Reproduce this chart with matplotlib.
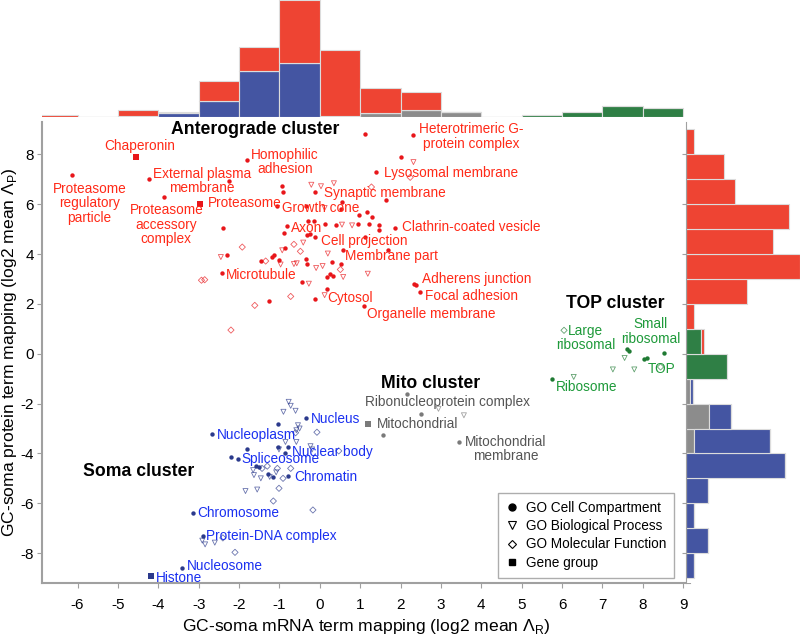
import numpy as np
import matplotlib
matplotlib.use("Agg")
import matplotlib.pyplot as plt
from matplotlib.lines import Line2D

plt.rcParams['font.family'] = ['Liberation Sans', 'DejaVu Sans']
plt.rcParams['mathtext.fontset'] = 'custom'
plt.rcParams['mathtext.rm'] = 'Liberation Sans'
plt.rcParams['axes.unicode_minus'] = False

# colours
RED, RED_T = '#e8161a', '#ff2a18'
BLUE, BLUE_T = '#2b3a8c', '#1a30f0'
GREY, GREY_T = '#7a7a7a', '#555555'
GREEN, GREEN_T = '#1f7a33', '#1e9a3a'
H_RED, H_BLUE, H_GREY, H_GREEN = '#ee4433', '#4455a2', '#8c8c8c', '#2f7f45'

# ---- scatter data (mRNA x, protein y) ----
red_cc_x = [1.13, 2.30, 2.02, 1.40, -6.14, -4.24, -1.79, -2.25, -3.87, -0.93, -0.90, -0.11, 1.64,
            -1.05, -0.35, 0.55, 0.53, -2.40, -0.82, -0.89, -0.31, -0.25, -0.11, -0.29, -0.15, 0.12,
            0.39, 0.96, 1.17, 1.29, 0.95, 1.23, 1.47, 1.46, 1.87, 1.13, 1.70, 0.58, -0.35, -0.32,
            0.30, 0.53, -1.46, -1.19, -1.14, -1.00, -0.85, -2.31, -2.43, 0.26, 0.33, 0.19, -0.44,
            -0.11, 0.19, -1.26, 1.10, 2.38, 2.49, 2.34]
red_cc_y = [8.83, 8.79, 7.89, 7.29, 7.18, 7.02, 7.78, 6.92, 6.29, 6.73, 6.49, 6.50, 6.15,
            5.93, 5.93, 6.09, 5.79, 5.05, 5.11, 4.86, 4.78, 4.82, 4.68, 5.31, 5.31, 5.22,
            5.15, 5.55, 5.69, 5.49, 5.22, 5.22, 5.18, 4.95, 5.05, 4.68, 4.18, 4.16, 3.82, 3.60,
            3.68, 3.62, 3.74, 3.87, 3.98, 3.76, 4.26, 3.98, 3.22, 3.18, 3.12, 3.06, 2.88,
            2.19, 2.59, 2.10, 1.90, 2.75, 2.48, 2.80]
red_sq_x = [-4.54, -2.96]
red_sq_y = [7.88, 6.02]
red_bp_x = [-2.45, -0.97, -0.93, -0.64, -0.57, -0.41, -0.27, -0.09, 0.07, 0.20, 0.58, 1.19,
            -0.21, 0.03, 0.35, 0.12, 0.55, 0.80, 0.12, 2.32]
red_bp_y = [3.88, 3.58, 4.15, 3.60, 3.63, 4.46, 2.81, 3.44, 3.52, 4.02, 3.08, 3.21,
            6.78, 6.72, 6.84, 5.85, 5.18, 5.15, 2.35, 7.69]
red_mf_x = [-2.85, -2.93, -1.92, -1.61, -0.72, -0.64, -0.48, -1.34, 0.51, 1.28, 2.24, -2.20]
red_mf_y = [2.97, 2.95, 4.28, 1.94, 2.30, 4.39, 4.11, 3.72, 3.38, 6.69, 7.08, 0.95]

blue_cc_x = [-0.33, -2.66, -2.19, -2.02, -0.79, -0.85, -0.79, -1.04, -1.80, -1.04, -1.57, -1.51,
             -1.28, -1.16, -3.13, -2.89, -3.40]
blue_cc_y = [-2.56, -3.23, -4.14, -4.23, -3.74, -3.98, -4.90, -2.80, -3.84, -3.76, -4.51, -4.54,
             -4.84, -4.94, -6.41, -7.30, -8.61]
blue_sq_x = [-4.18]
blue_sq_y = [-8.91]
blue_bp_x = [-0.77, -0.72, -0.90, -0.60, -0.54, -0.50, -0.58, -0.85, -0.58, -0.23, -0.19, -1.01,
             -1.65, -1.46, -1.63, -1.24, -1.08, -1.84, -1.55, -2.91, -2.84, -2.60]
blue_bp_y = [-1.93, -2.09, -2.33, -2.29, -2.87, -3.00, -3.07, -3.54, -3.54, -3.71, -3.84, -3.84,
             -4.67, -5.00, -4.87, -4.94, -4.76, -5.51, -5.45, -7.50, -7.65, -7.58]
blue_mf_x = [-0.07, -0.60, -1.30, -1.43, -1.05, -0.72, -0.91, -1.01, -1.15, -0.17, 0.47, -2.40, -2.10]
blue_mf_y = [-3.15, -3.17, -4.51, -4.60, -4.60, -4.60, -5.00, -5.40, -5.91, -6.27, -3.90, -7.39, -7.97]

grey_cc_x = [2.16, 2.50, 1.57, 3.46]
grey_cc_y = [-1.62, -2.40, -3.27, -3.54]
grey_sq_x = [1.19]
grey_sq_y = [-2.80]
grey_bp_x = [2.94, 3.57]
grey_bp_y = [-2.21, -2.47]

green_cc_x = [7.65, 7.60, 8.52, 8.04, 8.10, 5.76]
green_cc_y = [0.11, 0.18, 0.01, -0.22, -0.18, -1.00]
green_bp_x = [7.55, 7.26, 7.79, 6.29]
green_bp_y = [-0.17, -0.63, -0.63, -0.93]
green_mf_x = [6.05, 8.44]
green_mf_y = [0.94, -0.53]

# ---- histograms (bin left edges, counts) ----
top_edges = np.arange(-7, 9)
top_grey = [0, 0, 0, 0, 0, 0, 0, 0, 0.9, 2.0, 1.4, 0, 0, 0, 0, 0]
top_blue = [0, 0, 0.3, 0.9, 4.5, 12.9, 15.0, 0.3, 0, 0, 0, 0, 0, 0, 0, 0]
top_green = [0, 0, 0, 0, 0, 0, 0, 0, 0, 0, 0, 0, 0.4, 1.4, 2.9, 2.4]
top_red = [0.4, 0, 1.6, 0.4, 5.5, 6.6, 17.7, 18.3, 7.0, 5.0, 0, 0, 0, 0, 0, 0]

right_edges = np.arange(-9, 9)
right_grey = [0, 0, 0, 0, 0, 1.1, 3.0, 0.5, 0, 0, 0, 0, 0, 0, 0, 0, 0, 0]
right_blue = [1.0, 2.9, 1.0, 2.9, 12.9, 9.8, 2.9, 0.4, 0, 0, 0, 0, 0, 0, 0, 0, 0, 0]
right_green = [0, 0, 0, 0, 0, 0, 0, 0, 5.4, 2.0, 0, 0, 0, 0, 0, 0, 0, 0]
right_red = [0, 0, 0, 0, 0, 0, 0, 0, 0, 0.4, 1.0, 7.9, 14.8, 11.3, 13.4, 6.4, 4.9, 1.0]

# ---- labels ----
labels = [
    ('Chaperonin', -4.45, 8.33, 'center', RED_T),
    ('Proteasome\nregulatory\nparticle', -5.70, 6.03, 'center', RED_T),
    ('External plasma\nmembrane', -2.92, 6.93, 'center', RED_T),
    ('Homophilic\nadhesion', -0.86, 7.70, 'center', RED_T),
    ('Proteasome\naccessory\ncomplex', -3.80, 5.18, 'center', RED_T),
    ('Proteasome', -2.77, 6.06, 'left', RED_T),
    ('Growth cone', -0.93, 5.85, 'left', RED_T),
    ('Axon', -0.72, 5.04, 'left', RED_T),
    ('Cell projection', 0.02, 4.51, 'left', RED_T),
    ('Membrane part', 0.63, 3.92, 'left', RED_T),
    ('Microtubule', -2.33, 3.15, 'left', RED_T),
    ('Cytosol', 0.18, 2.25, 'left', RED_T),
    ('Organelle membrane', 1.17, 1.61, 'left', RED_T),
    ('Heterotrimeric G-\nprotein complex', 3.74, 8.71, 'center', RED_T),
    ('Lysosomal membrane', 1.60, 7.26, 'left', RED_T),
    ('Synaptic membrane', 0.10, 6.46, 'left', RED_T),
    ('Clathrin-coated vesicle', 2.03, 5.07, 'left', RED_T),
    ('Adherens junction', 2.53, 3.01, 'left', RED_T),
    ('Focal adhesion', 2.61, 2.32, 'left', RED_T),
    ('Large\nribosomal', 6.58, 0.64, 'center', GREEN_T),
    ('Small\nribosomal', 8.20, 0.90, 'center', GREEN_T),
    ('TOP', 8.47, -0.60, 'center', GREEN_T),
    ('Ribosome', 5.84, -1.33, 'left', GREEN_T),
    ('Ribonucleoprotein complex', 1.13, -1.93, 'left', GREY_T),
    ('Mitochondrial', 1.42, -2.83, 'left', GREY_T),
    ('Mitochondrial\nmembrane', 4.60, -3.83, 'center', GREY_T),
    ('Nucleus', -0.21, -2.60, 'left', BLUE_T),
    ('Nucleoplasm', -2.56, -3.27, 'left', BLUE_T),
    ('Nuclear body', -0.68, -3.94, 'left', BLUE_T),
    ('Spliceosome', -1.94, -4.23, 'left', BLUE_T),
    ('Chromatin', -0.64, -4.94, 'left', BLUE_T),
    ('Chromosome', -3.03, -6.38, 'left', BLUE_T),
    ('Protein-DNA complex', -2.82, -7.30, 'left', BLUE_T),
    ('Nucleosome', -3.30, -8.52, 'left', BLUE_T),
    ('Histone', -4.06, -9.01, 'left', BLUE_T),
]
clusters = [
    ('Anterograde cluster', -1.59, 9.00),
    ('TOP cluster', 7.31, 2.01),
    ('Mito cluster', 2.75, -1.20),
    ('Soma cluster', -4.48, -4.71),
]

fig = plt.figure(figsize=(8, 6.43), dpi=100)
ax = fig.add_axes([0.053, 0.0933, 0.81, 0.717])
ax_top = fig.add_axes([0.053, 0.8186, 0.81, 0.1814], sharex=ax)
ax_right = fig.add_axes([0.8575, 0.0933, 0.1425, 0.717], sharey=ax)

groups = [
    (red_cc_x, red_cc_y, red_sq_x, red_sq_y, red_bp_x, red_bp_y, red_mf_x, red_mf_y, RED),
    (blue_cc_x, blue_cc_y, blue_sq_x, blue_sq_y, blue_bp_x, blue_bp_y, blue_mf_x, blue_mf_y, BLUE),
    (grey_cc_x, grey_cc_y, grey_sq_x, grey_sq_y, grey_bp_x, grey_bp_y, [], [], GREY),
    (green_cc_x, green_cc_y, [], [], green_bp_x, green_bp_y, green_mf_x, green_mf_y, GREEN),
]
for cx, cy, sx, sy, bx, by, mx, my, c in groups:
    ax.scatter(bx, by, s=13, marker='v', facecolors='none', edgecolors=c, linewidths=0.6, alpha=0.7)
    ax.scatter(mx, my, s=10, marker='D', facecolors='none', edgecolors=c, linewidths=0.6, alpha=0.7)
    ax.scatter(cx, cy, s=10, marker='o', color=c, linewidths=0)
    ax.scatter(sx, sy, s=14, marker='s', color=c, linewidths=0)

for txt, x, y, ha, c in labels:
    ax.text(x, y, txt, ha=ha, va='center', color=c, fontsize=9.8, linespacing=1.05)
for txt, x, y in clusters:
    ax.text(x, y, txt, ha='center', va='center', color='black', fontsize=12.7, fontweight='bold')

ax.set_xlim(-6.87, 9.18)
ax.set_ylim(-9.2, 9.3)
ax.set_xticks(range(-6, 10))
ax.set_yticks(range(-8, 9, 2))
for s in ['top', 'right']:
    ax.spines[s].set_visible(False)
for s in ['left', 'bottom']:
    ax.spines[s].set_color('#a0a0a0')
    ax.spines[s].set_linewidth(1.5)
ax.tick_params(colors='#a0a0a0', labelcolor='black', labelsize=11, length=3.5, pad=2.5)
ax.tick_params(axis='x', pad=7)
ax.set_xlabel(r'GC-soma mRNA term mapping (log2 mean $\Lambda_\mathrm{R}$)', fontsize=12.6)
ax.set_ylabel(r'GC-soma protein term mapping (log2 mean $\Lambda_\mathrm{P}$)', fontsize=12.6)
ax.yaxis.set_label_coords(-0.036, 0.5)

handles = [
    Line2D([], [], ls='none', marker='o', color='black', markersize=5, label='GO Cell Compartment'),
    Line2D([], [], ls='none', marker='v', markerfacecolor='none', markeredgecolor='black',
           markersize=6, markeredgewidth=0.8, label='GO Biological Process'),
    Line2D([], [], ls='none', marker='D', markerfacecolor='none', markeredgecolor='black',
           markersize=4.5, markeredgewidth=0.8, label='GO Molecular Function'),
    Line2D([], [], ls='none', marker='s', color='black', markersize=5, label='Gene group'),
]
leg = ax.legend(handles=handles, loc='lower right', bbox_to_anchor=(0.975, 0.011), fontsize=9.8,
                frameon=True, fancybox=False, edgecolor='#999999', handlelength=0.8,
                handletextpad=0.6, labelspacing=0.32, borderpad=0.6, borderaxespad=0)
leg.get_frame().set_linewidth(1.0)

# top histogram
hist_cols = [(top_grey, H_GREY), (top_blue, H_BLUE), (top_green, H_GREEN), (top_red, H_RED)]
bottom = np.zeros(len(top_edges))
for vals, c in hist_cols:
    ax_top.bar(top_edges, vals, width=1, align='edge', bottom=bottom, color=c,
               edgecolor='#dcdcdc', linewidth=0.8)
    bottom += np.array(vals)
ax_top.set_ylim(0, 32.7)
ax_top.axis('off')

# right histogram
hist_cols = [(right_grey, H_GREY), (right_blue, H_BLUE), (right_green, H_GREEN), (right_red, H_RED)]
left = np.zeros(len(right_edges))
for vals, c in hist_cols:
    ax_right.barh(right_edges, vals, height=1, align='edge', left=left, color=c,
                  edgecolor='#dcdcdc', linewidth=0.8)
    left += np.array(vals)
ax_right.set_xlim(0, 14.85)
for s in ['top', 'right', 'bottom']:
    ax_right.spines[s].set_visible(False)
ax_right.spines['left'].set_color('#a0a0a0')
ax_right.tick_params(axis='y', colors='#a0a0a0', labelleft=False, length=3)
ax_right.tick_params(axis='x', bottom=False, labelbottom=False)

fig.savefig('out.png', dpi=100)
